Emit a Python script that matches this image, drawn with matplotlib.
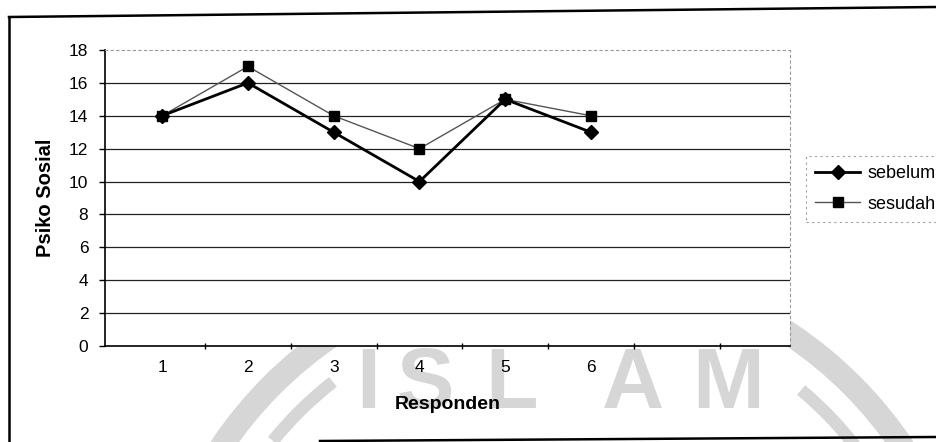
import matplotlib
matplotlib.use("Agg")
import matplotlib.pyplot as plt
from matplotlib.lines import Line2D
from matplotlib.patches import Circle, Arc
from matplotlib.transforms import IdentityTransform

# ---- data ----
responden = [1, 2, 3, 4, 5, 6]
sebelum = [14, 16, 13, 10, 15, 13]
sesudah = [14, 17, 14, 12, 15, 14]
yticks = [0, 2, 4, 6, 8, 10, 12, 14, 16, 18]
xlabel = "Responden"
ylabel = "Psiko Sosial"
series_names = ["sebelum", "sesudah"]
watermark_letters = ["I", "S", "L", "A", "M"]

W, H = 936, 442
plt.rcParams['font.family'] = ['Liberation Sans', 'DejaVu Sans']
fig = plt.figure(figsize=(W / 100, H / 100), dpi=100)
fig.patch.set_facecolor("white")


def fx(px):
    return px / W


def fy(py):
    return 1 - py / H


# ---- watermark (behind the chart) ----
wm_col = "#d6d6d6"
cx, cy = 562, H - 675
ring = Circle((cx, cy), radius=410, fill=False, edgecolor=wm_col,
              linewidth=17, zorder=-5, transform=IdentityTransform())
ring.set_figure(fig)
fig.patches.append(ring)
for t1, t2 in [(128, 141), (37, 50)]:
    a = Arc((cx, cy), 2 * 372, 2 * 372, theta1=t1, theta2=t2, edgecolor=wm_col,
            linewidth=9, zorder=-5, transform=IdentityTransform())
    a.set_figure(fig)
    fig.patches.append(a)

letter_x = [368, 425, 512, 633, 728]
for lx, ch in zip(letter_x, watermark_letters):
    fig.text(fx(lx), fy(386), ch, fontsize=62, fontweight="bold", color=wm_col,
             ha="center", va="center", zorder=-4)

# ---- outer chart frame (slightly tilted scan) ----
frame_kw = dict(color="black", linewidth=1.8, transform=fig.transFigure, zorder=5)
fig.lines.append(Line2D([fx(9), fx(936)], [fy(17), fy(7)], **frame_kw))
fig.lines.append(Line2D([fx(9), fx(9)], [fy(17), fy(442)], **frame_kw))
fig.lines.append(Line2D([fx(320), fx(936)], [fy(441), fy(437)], **frame_kw))

# ---- plot area ----
left, right, top, bottom = 105, 790, 50, 346
ax = fig.add_axes([fx(left), fy(bottom), (right - left) / W, (bottom - top) / H])
ax.set_facecolor("white")

ax.plot(responden, sesudah, color="#555555", linewidth=1.0, marker="s",
        markersize=6.5, markerfacecolor="black", markeredgecolor="black",
        label=series_names[1], zorder=3)
ax.plot(responden, sebelum, color="black", linewidth=2.0, marker="D",
        markersize=7.5, markerfacecolor="black", markeredgecolor="black",
        label=series_names[0], zorder=4)

ax.set_xlim(0.334, 8.32)
ax.set_ylim(0, 18)
ax.set_yticks(yticks)
ax.set_xticks(responden)
ax.set_xticks([1.5, 2.5, 3.5, 4.5, 5.5, 6.5, 7.5], minor=True)

for y in yticks[1:-1]:
    ax.axhline(y, color="#222222", linewidth=0.9, zorder=1)

for side in ["top", "right"]:
    ax.spines[side].set_color("#999999")
    ax.spines[side].set_linestyle((0, (2, 3)))
    ax.spines[side].set_linewidth(0.8)
ax.spines["left"].set_color("black")
ax.spines["left"].set_linewidth(1.2)
ax.spines["bottom"].set_color("black")
ax.spines["bottom"].set_linewidth(1.2)

ax.tick_params(axis="y", direction="out", length=4, width=1, pad=8, labelsize=12.5)
ax.tick_params(axis="x", which="major", length=0, pad=10, labelsize=12.5)
ax.tick_params(axis="x", which="minor", direction="inout", length=5, width=1)

ax.set_xlabel(xlabel, fontsize=14, fontweight="bold", labelpad=15)
ax.set_ylabel(ylabel, fontsize=14.5, fontweight="bold", labelpad=10)

# ---- legend ----
handles, labels = ax.get_legend_handles_labels()
order = [1, 0]
leg = fig.legend([handles[i] for i in order], [labels[i] for i in order],
                 loc="center left", bbox_to_anchor=(fx(806), fy(189)),
                 fontsize=13, frameon=True, fancybox=False, handlelength=2.5,
                 handletextpad=0.4, labelspacing=0.75, borderpad=0.5,
                 borderaxespad=0)
leg.get_frame().set_edgecolor("#888888")
leg.get_frame().set_linestyle((0, (2, 3)))
leg.get_frame().set_linewidth(0.8)

fig.savefig("out.png", dpi=100, facecolor="white")
